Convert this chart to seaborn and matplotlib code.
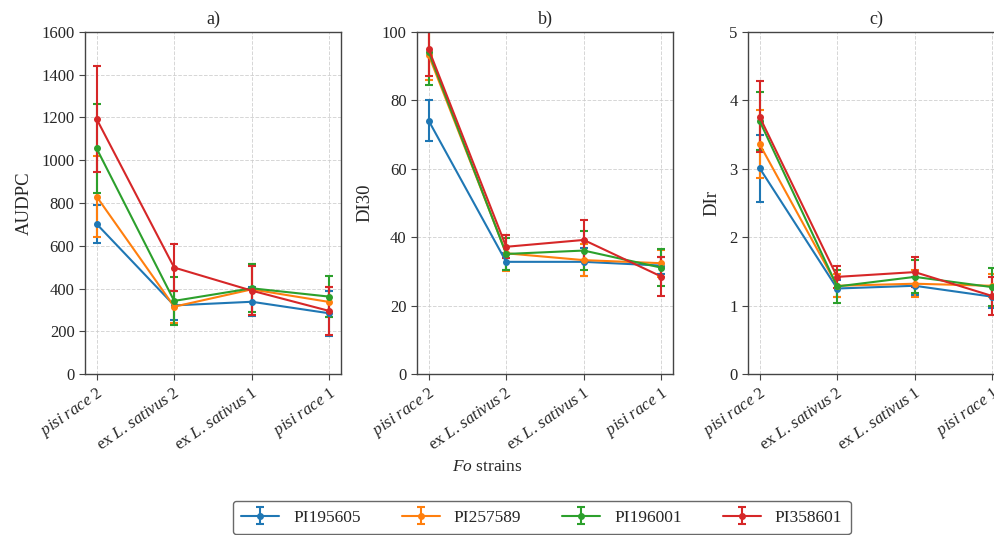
"""Disease scores of four pea accessions against four Fo strains (AUDPC, DI30, DIr)."""
import matplotlib
matplotlib.use("Agg")
import matplotlib.pyplot as plt
import seaborn as sns

strains = [r"$pisi\ race$ 2", r"ex $L.\,sativus$ 2", r"ex $L.\,sativus$ 1", r"$pisi\ race$ 1"]
accessions = ["PI195605", "PI257589", "PI196001", "PI358601"]

# AUDPC means and error (one list per accession, in strain order)
audpc_mean = [
    [702, 321, 338, 284],
    [830, 315, 396, 337],
    [1055, 342, 401, 362],
    [1193, 498, 390, 295],
]
audpc_err = [
    [87, 68, 68, 105],
    [190, 75, 120, 70],
    [210, 113, 113, 97],
    [250, 110, 115, 112],
]

di30_mean = [
    [74.1, 32.8, 32.8, 31.7],
    [93.3, 35.3, 33.3, 32.4],
    [94.2, 35.1, 36.1, 31.1],
    [95.0, 37.2, 39.2, 28.5],
]
di30_err = [
    [6.0, 2.5, 4.0, 2.6],
    [7.3, 5.2, 4.7, 4.0],
    [9.7, 4.8, 5.7, 5.5],
    [8.0, 3.3, 5.9, 5.6],
]

dir_mean = [
    [3.01, 1.25, 1.29, 1.13],
    [3.36, 1.29, 1.32, 1.29],
    [3.70, 1.28, 1.42, 1.27],
    [3.76, 1.42, 1.49, 1.14],
]
dir_err = [
    [0.49, 0.12, 0.13, 0.16],
    [0.50, 0.17, 0.20, 0.17],
    [0.42, 0.24, 0.24, 0.28],
    [0.52, 0.16, 0.22, 0.28],
]

panels = [
    ("a)", "AUDPC", audpc_mean, audpc_err, (0, 1600)),
    ("b)", "DI30", di30_mean, di30_err, (0, 100)),
    ("c)", "DIr", dir_mean, dir_err, (0, 5)),
]

sns.set_style("ticks")
plt.rcParams["font.family"] = ["Liberation Serif", "DejaVu Serif"]
plt.rcParams["mathtext.fontset"] = "custom"
plt.rcParams["mathtext.rm"] = "Liberation Serif"
plt.rcParams["mathtext.it"] = "Liberation Serif:italic"
plt.rcParams["font.size"] = 12

colors = sns.color_palette("tab10", 4)

fig = plt.figure(figsize=(9.94, 5.35), dpi=100)
lefts = [0.0855, 0.4195, 0.7525]

for left, (title, ylabel, means, errs, ylim) in zip(lefts, panels):
    ax = fig.add_axes([left, 0.3009, 0.2575, 0.6393])
    for name, m, e, c in zip(accessions, means, errs, colors):
        ax.errorbar(strains, m, yerr=e, color=c, marker="o", markersize=4,
                    linewidth=1.5, capsize=3, capthick=1.5, elinewidth=1.5, label=name)
    ax.set_ylim(*ylim)
    ax.set_ylabel(ylabel, fontsize=13.5, labelpad=6)
    ax.set_title(title, fontsize=13, pad=6)
    ax.grid(True, linestyle="--", color="#cccccc", linewidth=0.7, alpha=0.8)
    ax.set_axisbelow(True)
    for s in ax.spines.values():
        s.set_color("#444444")
        s.set_linewidth(1.0)
    ax.tick_params(axis="both", labelsize=12, direction="out", length=4, color="#444444")
    plt.setp(ax.get_xticklabels(), rotation=35, ha="right", rotation_mode="anchor")

fig.text(0.49, 0.127, r"$Fo$ strains", ha="center", va="center", fontsize=12.5)

handles, labels = ax.get_legend_handles_labels()
leg = fig.legend(handles, labels, loc="upper center", bbox_to_anchor=(0.545, 0.08),
                 ncol=4, frameon=True, fontsize=12.5, handlelength=2.2,
                 columnspacing=2.35, borderpad=0.5)
leg.get_frame().set_edgecolor("#444444")
leg.get_frame().set_linewidth(1.0)

fig.savefig("out.png", dpi=100)
